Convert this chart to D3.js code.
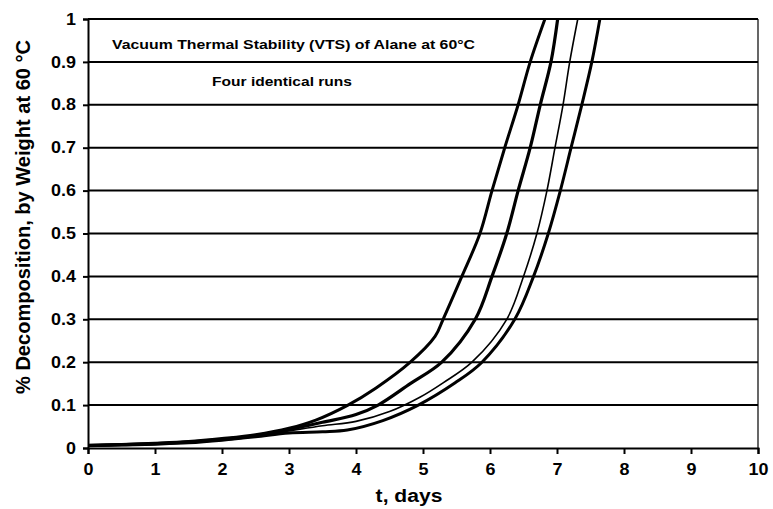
<!DOCTYPE html>
<html><head><meta charset="utf-8">
<script src="https://cdn.jsdelivr.net/npm/d3@7"></script>
<style>body{margin:0;background:#fff}text{font-family:"Liberation Sans",Arial,sans-serif;font-weight:bold;fill:#000}</style>
</head><body>
<svg id="c" width="773" height="509"></svg>
<script>
const xTicks = [0,1,2,3,4,5,6,7,8,9,10];
const yTicks = [0,0.1,0.2,0.3,0.4,0.5,0.6,0.7,0.8,0.9,1];
const yTickLabels = ["0","0.1","0.2","0.3","0.4","0.5","0.6","0.7","0.8","0.9","1"];
const runA = [[0,0.006],[0.5,0.008],[1,0.011],[1.5,0.015],[2,0.022],[2.5,0.031],[3,0.046],[3.4,0.065],[3.88,0.1],[4.3,0.14],[4.81,0.2],[5.18,0.26],[5.3,0.3],[5.58,0.4],[5.85,0.5],[6.03,0.6],[6.22,0.7],[6.42,0.8],[6.6,0.9],[6.82,1.0]];
const runB = [[0,0.006],[0.5,0.008],[1,0.010],[1.5,0.014],[2,0.020],[2.5,0.029],[3,0.043],[3.5,0.06],[4.0,0.078],[4.33,0.1],[4.81,0.15],[5.28,0.2],[5.78,0.3],[6.03,0.4],[6.25,0.5],[6.42,0.6],[6.6,0.7],[6.75,0.8],[6.91,0.9],[7.01,1.0]];
const runC = [[0,0.005],[0.5,0.007],[1,0.010],[1.5,0.013],[2,0.019],[2.5,0.028],[3,0.04],[3.5,0.052],[4,0.062],[4.5,0.085],[4.96,0.119],[5.3,0.152],[5.73,0.2],[6.25,0.3],[6.5,0.4],[6.7,0.5],[6.85,0.6],[6.97,0.7],[7.09,0.8],[7.19,0.9],[7.31,1.0]];
const runD = [[0,0.005],[0.5,0.007],[1,0.009],[1.5,0.012],[2,0.018],[2.5,0.026],[3,0.035],[3.5,0.038],[3.87,0.042],[4.4,0.064],[4.93,0.1],[5.48,0.152],[5.88,0.2],[6.37,0.3],[6.65,0.4],[6.87,0.5],[7.05,0.6],[7.21,0.7],[7.37,0.8],[7.52,0.9],[7.64,1.0]];
const series = [
  {name:"Run 1", data:runA, w:3},
  {name:"Run 2", data:runB, w:3.2},
  {name:"Run 3", data:runC, w:1.6},
  {name:"Run 4", data:runD, w:3}
];
const titleText = "Vacuum Thermal Stability (VTS) of Alane at 60°C";
const subText = "Four identical runs";
const xTitle = "t, days";
const yTitle = "% Decomposition, by Weight at 60 °C";

const svg = d3.select("#c");
const L=88, R=758, T=19, B=448;
const x = d3.scaleLinear().domain([0,10]).range([L,R]);
const y = d3.scaleLinear().domain([0,1]).range([B,T]);

function stretch(sel, k){
  sel.each(function(){
    const n = this.getComputedTextLength();
    d3.select(this).attr("textLength", n*k).attr("lengthAdjust","spacingAndGlyphs");
  });
}

// gridlines
svg.append("g").selectAll("line").data(yTicks.slice(1)).join("line")
  .attr("x1",L).attr("x2",R).attr("y1",d=>y(d)).attr("y2",d=>y(d))
  .attr("stroke","#000").attr("stroke-width",2);
// right border
svg.append("line").attr("x1",R).attr("x2",R).attr("y1",T).attr("y2",B).attr("stroke","#000").attr("stroke-width",1.2);

// clip
svg.append("clipPath").attr("id","clip").append("rect").attr("x",L).attr("y",T-2).attr("width",R-L).attr("height",B-T+4);

const line = d3.line().x(d=>x(d[0])).y(d=>y(d[1])).curve(d3.curveCatmullRom.alpha(0.5));
svg.append("g").attr("clip-path","url(#clip)").selectAll("path").data(series).join("path")
  .attr("d",d=>line(d.data)).attr("fill","none").attr("stroke","#000")
  .attr("stroke-width",d=>d.w).attr("stroke-linejoin","round");

// axes
const xAxis = d3.axisBottom(x).tickValues(xTicks).tickSize(6).tickFormat(d3.format("d"));
const gx = svg.append("g").attr("transform",`translate(0,${B})`).call(xAxis);
gx.select(".domain").attr("stroke-width",2);
gx.selectAll(".tick line").attr("stroke-width",2);
gx.selectAll("text").attr("font-size",16).attr("dy","1.1em").style("font-family","Liberation Sans, Arial, sans-serif").style("font-weight","bold");
stretch(gx.selectAll("text"),1.12);

const yAxis = d3.axisLeft(y).tickValues(yTicks).tickSize(5).tickFormat((d,i)=>yTickLabels[i]);
const gy = svg.append("g").attr("transform",`translate(${L},0)`).call(yAxis);
gy.select(".domain").attr("stroke-width",2);
gy.selectAll(".tick line").attr("stroke-width",2);
gy.selectAll("text").attr("font-size",16).attr("x",-12).style("font-family","Liberation Sans, Arial, sans-serif").style("font-weight","bold");
stretch(gy.selectAll("text"),1.12);

// titles
const xt = svg.append("text").attr("x",409).attr("y",502).attr("text-anchor","middle").attr("font-size",18).text(xTitle);
stretch(xt,1.17);
svg.append("text").attr("transform",`translate(30,217) rotate(-90)`).attr("text-anchor","middle").attr("font-size",19.5)
  .attr("textLength",354).attr("lengthAdjust","spacingAndGlyphs").text(yTitle);
svg.append("text").attr("x",112).attr("y",49).attr("font-size",13).attr("textLength",363).attr("lengthAdjust","spacingAndGlyphs").text(titleText);
svg.append("text").attr("x",212).attr("y",86).attr("font-size",13).attr("textLength",140).attr("lengthAdjust","spacingAndGlyphs").text(subText);
</script>
</body></html>
